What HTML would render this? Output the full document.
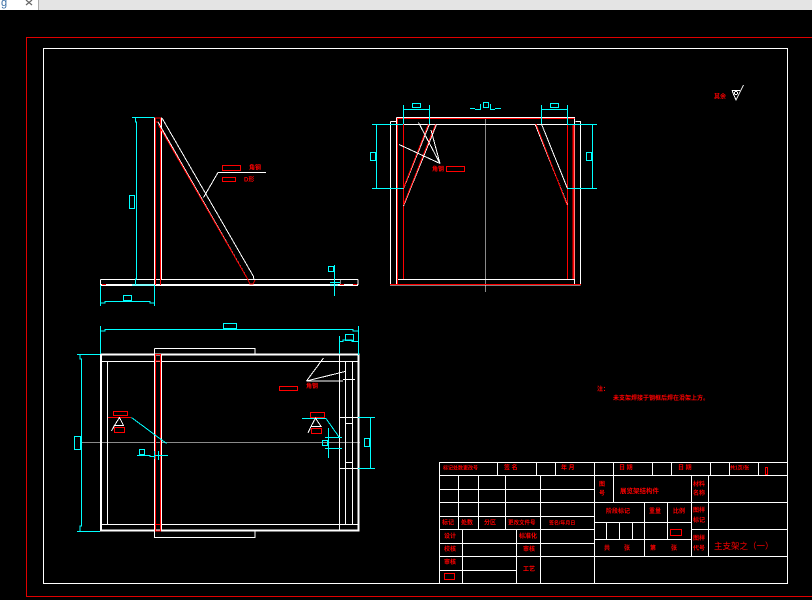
<!DOCTYPE html>
<html><head><meta charset="utf-8"><style>
html,body{margin:0;padding:0;background:#000;width:812px;height:600px;overflow:hidden}
svg{display:block}
text{font-family:"Liberation Sans","Noto Sans CJK SC",sans-serif;fill:#f00;font-size:6px;font-weight:700}
</style></head><body>
<svg width="812" height="600" viewBox="0 0 812 600" xmlns="http://www.w3.org/2000/svg">
<rect width="812" height="600" fill="#000"/>
<rect x="0" y="0" width="812" height="10" fill="#e4e4e4"/>
<rect x="0" y="0" width="38" height="10" fill="#fff"/>
<rect x="38" y="0" width="1" height="10" fill="#aaa"/>
<text x="1" y="6" style="fill:#3a6ea5;font-size:11px;font-weight:400">g</text>
<path d="M26 0L32 5M32 0L26 5" stroke="#666" stroke-width="1.2" fill="none"/>

<g fill="none" shape-rendering="crispEdges">
<!-- frames -->
<path d="M812 37.5H26.5V596.5H812" stroke="#e00000"/>
<rect x="43.5" y="48.5" width="744" height="535" stroke="#fff"/>

<!-- gray centre lines -->
<path d="M485.5 117V292M81 442.5H360M340.5 279V285" stroke="#8a8a8a"/>

<!-- view 1 white -->
<path d="M154.5 118V285M161.5 118V279M100.5 279.5V285M358 279.5V285M100.5 279.5H358M154 118H162" stroke="#fff"/>
<path d="M100.5 285H358" stroke="#fff" stroke-width="2"/>
<!-- view 2 white -->
<path d="M390.5 121.5H396M575.5 121.5H580.5V285M390.5 121.5V285H580.5M396.5 117.5H574.5V285M396.5 117.5V285M397 124.5H574M397 279.5H574" stroke="#fff"/>
<!-- bottom view white -->
<path d="M107.5 361V524M101 361.5H358M101 524.5H358M154.5 348.5H255V354M154.5 348.5V537.5H255V531M161.5 354V531M339.5 354V531M345.5 361V524M352.5 361V524M343 379.5H355M339 417.5H358M345 423.5H352M345 462.5H352M339 468.5H358" stroke="#fff"/>
<path d="M101 354.5H358.5V530.5H101Z" stroke="#fff" stroke-width="2"/>
<!-- title block -->
<path d="M439.5 462.5H787.5V583.5H439.5ZM439 475.5H787M497.5 462V475M536.5 462V475M555.5 462V475M594.5 462V583M613.5 462V502M652.5 462V475M671.5 462V475M710.5 462V475M729.5 462V475M758.5 462V475
M439 489.5H594M439 502.5H787M439 516.5H594M439 529.5H594M458.5 475V529M478.5 475V529M505.5 475V529M540.5 475V583M462.5 529V583M516.5 529V583M439 543.5H594M439 556.5H787M439 570.5H516
M691.5 475V556M708.5 475V556M594 522.5H691M594 539.5H691M644.5 502V556M667.5 502V539M691 529.5H787M606.5 522V539M619.5 522V539M632.5 522V539" stroke="#fff"/>

<!-- view 1 red -->
<path d="M155.5 118V285M160.5 118V285M155 118H161M156 122H159M102 284.5H106M340 284.5H344M353 284.5H357" stroke="#f00"/>
<rect x="222.5" y="165.5" width="18" height="5" stroke="#f00"/>
<rect x="222.5" y="177.5" width="13" height="4" stroke="#f00"/>
<rect x="446.5" y="166.5" width="18" height="5" stroke="#f00"/>
<!-- view 2 red -->
<path d="M397.5 118.5H574.5M390 284.5H581M397.5 118V285M403.5 124V279M567.5 124V279" stroke="#f00"/>
<path d="M573.5 124V279" stroke="#f00" stroke-width="2"/>
<!-- bottom view red -->
<path d="M155.5 354V531M160.5 354V531M155 354.5H161M155 361H161M155 524.5H161M155 531H161M108 417.5H131" stroke="#f00"/>
<rect x="113.5" y="411.5" width="14" height="4" stroke="#f00"/>
<rect x="114.5" y="427.5" width="10" height="5" stroke="#f00"/>
<rect x="310.5" y="412.5" width="14" height="5" stroke="#f00"/>
<rect x="311.5" y="428.5" width="10" height="5" stroke="#f00"/>
<rect x="279.5" y="386.5" width="18" height="4" stroke="#f00"/>
<!-- title rects -->
<rect x="670.5" y="529.5" width="11" height="6" stroke="#f00"/>
<rect x="444.5" y="573.5" width="10" height="6" stroke="#f00"/>
<rect x="765.5" y="467.5" width="2" height="7" stroke="#f00"/>

<!-- cyan -->
<path d="M132 117.5H154M135.5 117.5V122H136.5V279H135.5V285M132 285H154M100.5 285V306M154.5 285V306M101 303H105V301.5H150V303H154M334.5 265V296M330 282.5H340M330 285H338" stroke="#0ff"/>
<rect x="129.5" y="195.5" width="5" height="13" stroke="#0ff"/>
<rect x="123.5" y="295.5" width="8" height="5" stroke="#0ff"/>
<rect x="328.5" y="266.5" width="5" height="5" stroke="#0ff"/>

<path d="M403.5 105V124M429.5 105V124M403 109.5H430M541.5 105V124M567.5 105V124M541 109.5H568M480.5 104V110M490.5 104V110M470 108.5H475M475 109.5H480M490 109.5H495M495 108.5H501M372 124.5H403M372 188.5H403M376.5 124V188M567 124.5H597M567 188.5H597M592.5 124V188" stroke="#0ff"/>
<rect x="412.5" y="103.5" width="8" height="4" stroke="#0ff"/>
<rect x="550.5" y="103.5" width="8" height="4" stroke="#0ff"/>
<rect x="483.5" y="102.5" width="5" height="5" stroke="#0ff"/>
<rect x="370.5" y="152.5" width="5" height="8" stroke="#0ff"/>
<rect x="586.5" y="152.5" width="5" height="8" stroke="#0ff"/>

<path d="M77 354.5H100M77 531.5H100M80 354.5V359H81.5V526H80V531M100.5 326V354M358.5 326V355M101 331H105V329.5H353V331H358M339.5 336V354M339 341.5H343V340H352V341.5H358M358 417.5H375M358 468.5H375M370.5 417V468M137 455.5H150V456.5H155M155 455.5H168M154.5 451V459M158.5 451V460M325 437.5H342M325 448.5H342M328.5 428V458M302 418.5H326" stroke="#0ff"/>
<rect x="74.5" y="436.5" width="6" height="13" stroke="#0ff"/>
<rect x="223.5" y="323.5" width="13" height="5" stroke="#0ff"/>
<rect x="345.5" y="334.5" width="8" height="6" stroke="#0ff"/>
<rect x="364.5" y="438.5" width="5" height="8" stroke="#0ff"/>
<rect x="139.5" y="449.5" width="5" height="5" stroke="#0ff"/>
<rect x="322.5" y="440.5" width="5" height="5" stroke="#0ff"/>

<!-- diagonals -->
<path d="M162 118L253.5 276.5L254 280M203.5 197.5L218 172.5H266" stroke="#fff"/>
<path d="M158 122L247 278" stroke="#fff"/>
<path d="M158.5 125L247 278L250 284L253 284L255 280" stroke="#f00"/>
<path d="M429.5 124L403.5 188.5M436.5 124.5L403.5 206M535 124L567.5 205M541.5 124L567.5 188.5" stroke="#fff"/>
<path d="M428.5 124L403.5 188M435.5 124.5L403.5 205M536 124L567 205" stroke="#f00"/>
<path d="M440 163.5L418.5 122.5M440 163.5L431 130M440 163.5L399 144.5" stroke="#fff"/>
<path d="M306.5 381L323.5 358M306.5 381L345 371.5M306.5 381H343" stroke="#fff"/>
<path d="M119.5 417.5L114.5 425.5H123.5ZM114.5 425.5L111.5 431M315.5 418L311 426.5H321ZM311 426.5L308 433" stroke="#fff"/>
<path d="M131.5 417.5L166.5 443.5M326 418.5L339 437" stroke="#0ff"/>
<!-- surface symbol -->
<path d="M732 90.5H740M732 90.5L736 100L743.5 85" stroke="#fff"/>
<circle cx="736" cy="93" r="1.6" stroke="#fff"/>
</g>

<!-- labels -->
<text x="249" y="169.5">角钢</text>
<text x="244" y="181.5">D形</text>
<text x="432" y="171">角钢</text>
<text x="306" y="388">角钢</text>
<text x="714" y="98.5">其余</text>
<text x="597" y="391">注：</text>
<text x="613" y="400" style="font-size:6px">未支架焊接于钢框后焊在滑架上方。</text>

<text x="443" y="469.5" style="font-size:5px">标记处数更改号</text>
<text x="504" y="469.5">签 名</text>
<text x="561" y="469.5">年 月</text>
<text x="619" y="469.5">日 期</text>
<text x="678" y="469.5">日 期</text>
<text x="730" y="469.5" style="font-size:5px">共1页/张</text>

<text x="442" y="524.5">标记</text>
<text x="461" y="524.5">处数</text>
<text x="484" y="524.5">分区</text>
<text x="508" y="524.5" style="font-size:5.5px">更改文件号</text>
<text x="549" y="524.5" style="font-size:5px">签名/年月日</text>

<text x="444" y="538">设计</text>
<text x="519" y="538">标准化</text>
<text x="444" y="551">校核</text>
<text x="523" y="551">审核</text>
<text x="444" y="564">审核</text>
<text x="523" y="571">工艺</text>

<text x="599" y="486">图</text>
<text x="599" y="495">号</text>
<text x="620" y="493" style="font-size:6.5px">展览架结构件</text>
<text x="693" y="486">材料</text>
<text x="693" y="495">名称</text>
<text x="693" y="512">图样</text>
<text x="693" y="522">标记</text>
<text x="693" y="540">图样</text>
<text x="693" y="550">代号</text>
<text x="606" y="513">阶段标记</text>
<text x="649" y="513">重量</text>
<text x="673" y="513">比例</text>
<text x="604" y="550">共</text>
<text x="624" y="550">张</text>
<text x="650" y="550">第</text>
<text x="671" y="550">张</text>
<text x="714" y="549" style="font-size:8.5px;font-weight:400">主支架之（一）</text>
</svg>
</body></html>
